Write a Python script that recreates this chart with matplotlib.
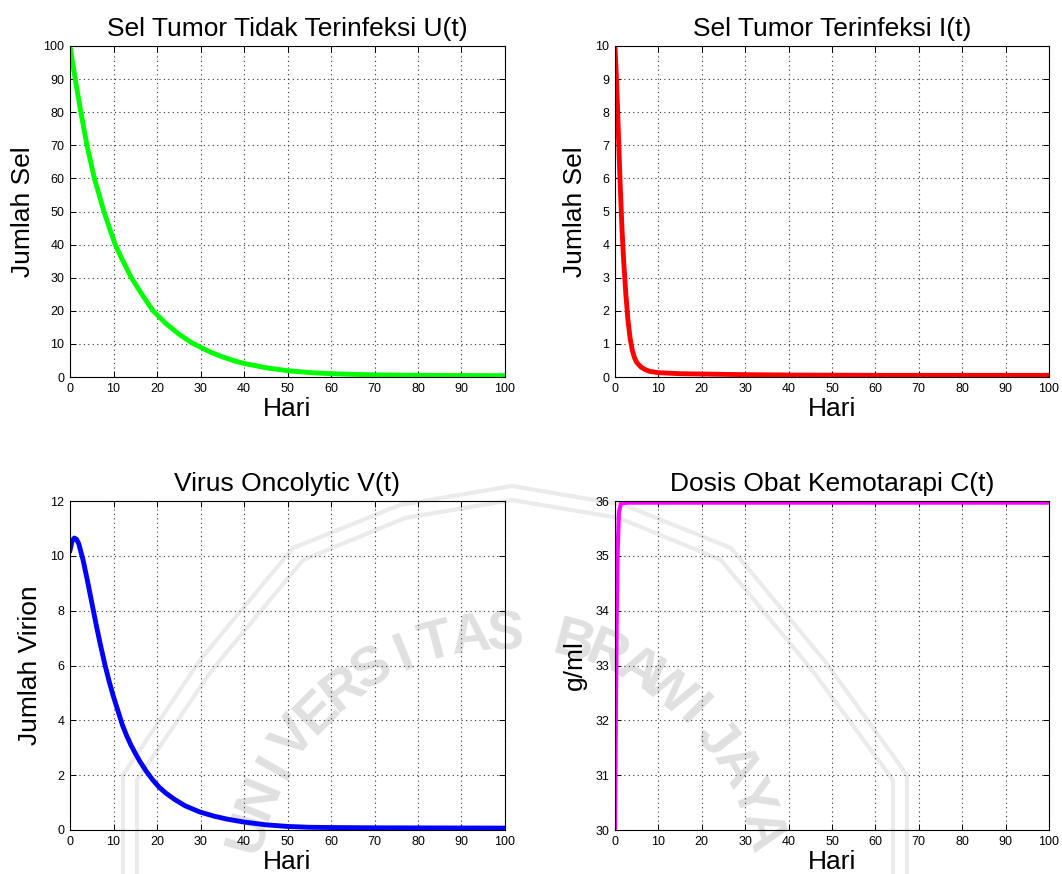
import numpy as np
import matplotlib
matplotlib.use("Agg")
import matplotlib.pyplot as plt

plt.rcParams['font.family'] = ['Liberation Sans', 'DejaVu Sans']

# data
t_u = [0, 1.2, 2.5, 3.9, 5.6, 7.8, 9, 10.4, 12, 14.1, 16.5, 19.1, 22, 25, 27.9, 30, 32.5, 35, 37.5, 40,
       45, 50, 55, 60, 65, 70, 80, 90, 100]
u = [100, 90, 80, 70, 60, 50, 45.3, 40, 35.5, 30, 25, 20, 16.2, 13, 10.4, 9.0, 7.4, 6.1, 5.0, 4.1,
     2.8, 1.9, 1.35, 1.0, 0.8, 0.65, 0.5, 0.45, 0.4]

t_i = [0, 0.4, 0.8, 1.2, 1.6, 2.0, 2.5, 3.0, 3.5, 4, 4.5, 5, 6, 7, 8, 10, 15, 20, 30, 40, 60, 100]
i_ = [10, 8.8, 7.3, 5.8, 4.5, 3.5, 2.5, 1.7, 1.15, 0.8, 0.58, 0.44, 0.3, 0.22, 0.17, 0.13, 0.1, 0.09, 0.07, 0.06, 0.05, 0.05]

t_v = [0, 0.5, 1, 1.5, 2, 3, 4, 5, 6, 7, 8, 9, 10, 11, 12, 13, 14, 15, 16, 17.5, 19, 20.5, 22, 24,
       26.5, 29.8, 33, 36, 40, 45, 50, 55, 60, 70, 100]
v = [10.2, 10.55, 10.65, 10.6, 10.45, 9.85, 9.1, 8.3, 7.5, 6.75, 6.05, 5.42, 4.86, 4.36, 3.85, 3.45, 3.1, 2.8, 2.52,
     2.15, 1.83, 1.56, 1.35, 1.12, 0.88, 0.66, 0.51, 0.4, 0.29, 0.19, 0.13, 0.1, 0.09, 0.08, 0.07]

t_c = [0, 0.15, 0.38, 0.6, 0.9, 1.4, 3, 100]
c = [30.0, 31.7, 33.8, 35.04, 35.8, 35.96, 35.97, 35.97]

titles = ["Sel Tumor Tidak Terinfeksi U(t)", "Sel Tumor Terinfeksi I(t)",
          "Virus Oncolytic V(t)", "Dosis Obat Kemotarapi C(t)"]
ylabels = ["Jumlah Sel", "Jumlah Sel", "Jumlah Virion", "g/ml"]
ylims = [(0, 100), (0, 10), (0, 12), (30, 36)]
yticks = [np.arange(0, 101, 10), np.arange(0, 11, 1), np.arange(0, 13, 2), np.arange(30, 37, 1)]
colors = ['#00ff00', '#ff0000', '#0000ff', '#ff00ff']
series = [(t_u, u), (t_i, i_), (t_v, v), (t_c, c)]
widths = [3.5, 3.5, 3.5, 3.0]

W, H = 1062, 874
fig = plt.figure(figsize=(W / 100, H / 100), dpi=100)

# faint watermark in the background
bg = fig.add_axes([0, 0, 1, 1], zorder=-5)
bg.set_xlim(0, W)
bg.set_ylim(H, 0)
bg.axis('off')
outer_x = [123, 123, 200, 293, 400, 512, 624, 731, 824, 907, 907]
outer_y = [880, 775, 660, 548, 505, 486, 505, 548, 660, 775, 880]
inner_x = [137, 137, 212, 303, 405, 512, 619, 721, 812, 893, 893]
inner_y = [880, 780, 670, 560, 518, 500, 518, 560, 670, 780, 880]
bg.plot(outer_x, outer_y, color='#ebebeb', lw=3)
bg.plot(inner_x, inner_y, color='#ebebeb', lw=3)
wm = "UNIVERSITAS BRAWIJAYA"
cx, cy, r = 505, 900, 265
for k, ch in enumerate(wm):
    ang = np.deg2rad(165 - 7.5 * k)
    bg.text(cx + r * np.cos(ang), cy - r * np.sin(ang), ch, fontsize=40, color='#e0e0e0',
            fontweight='bold', rotation=np.rad2deg(ang) - 90, ha='center', va='center',
            rotation_mode='anchor')

# axes boxes in pixels: left, top, right, bottom
boxes = [(70, 46, 505, 377), (615, 46, 1049, 377), (70, 501, 505, 830), (615, 501, 1049, 830)]

for k in range(4):
    l, t, rr, b = boxes[k]
    ax = fig.add_axes([l / W, 1 - b / H, (rr - l) / W, (b - t) / H])
    ax.set_facecolor('none')
    x, y = series[k]
    ax.plot(x, y, color=colors[k], lw=widths[k], solid_joinstyle='round')
    ax.set_xlim(0, 100)
    ax.set_ylim(*ylims[k])
    ax.set_xticks(np.arange(0, 101, 10))
    ax.set_yticks(yticks[k])
    ax.grid(True, color='#333333', linestyle=(0, (1, 3)), lw=0.8)
    ax.tick_params(direction='in', length=4, width=0.7, labelsize=9, pad=4,
                   top=True, right=True, colors='black')
    for s in ax.spines.values():
        s.set_linewidth(0.8)
    ax.set_title(titles[k], fontsize=19, pad=7)
    ax.set_xlabel("Hari", fontsize=19, labelpad=2)
    ax.set_ylabel(ylabels[k], fontsize=19, labelpad=6)

fig.savefig("out.png", dpi=100)
